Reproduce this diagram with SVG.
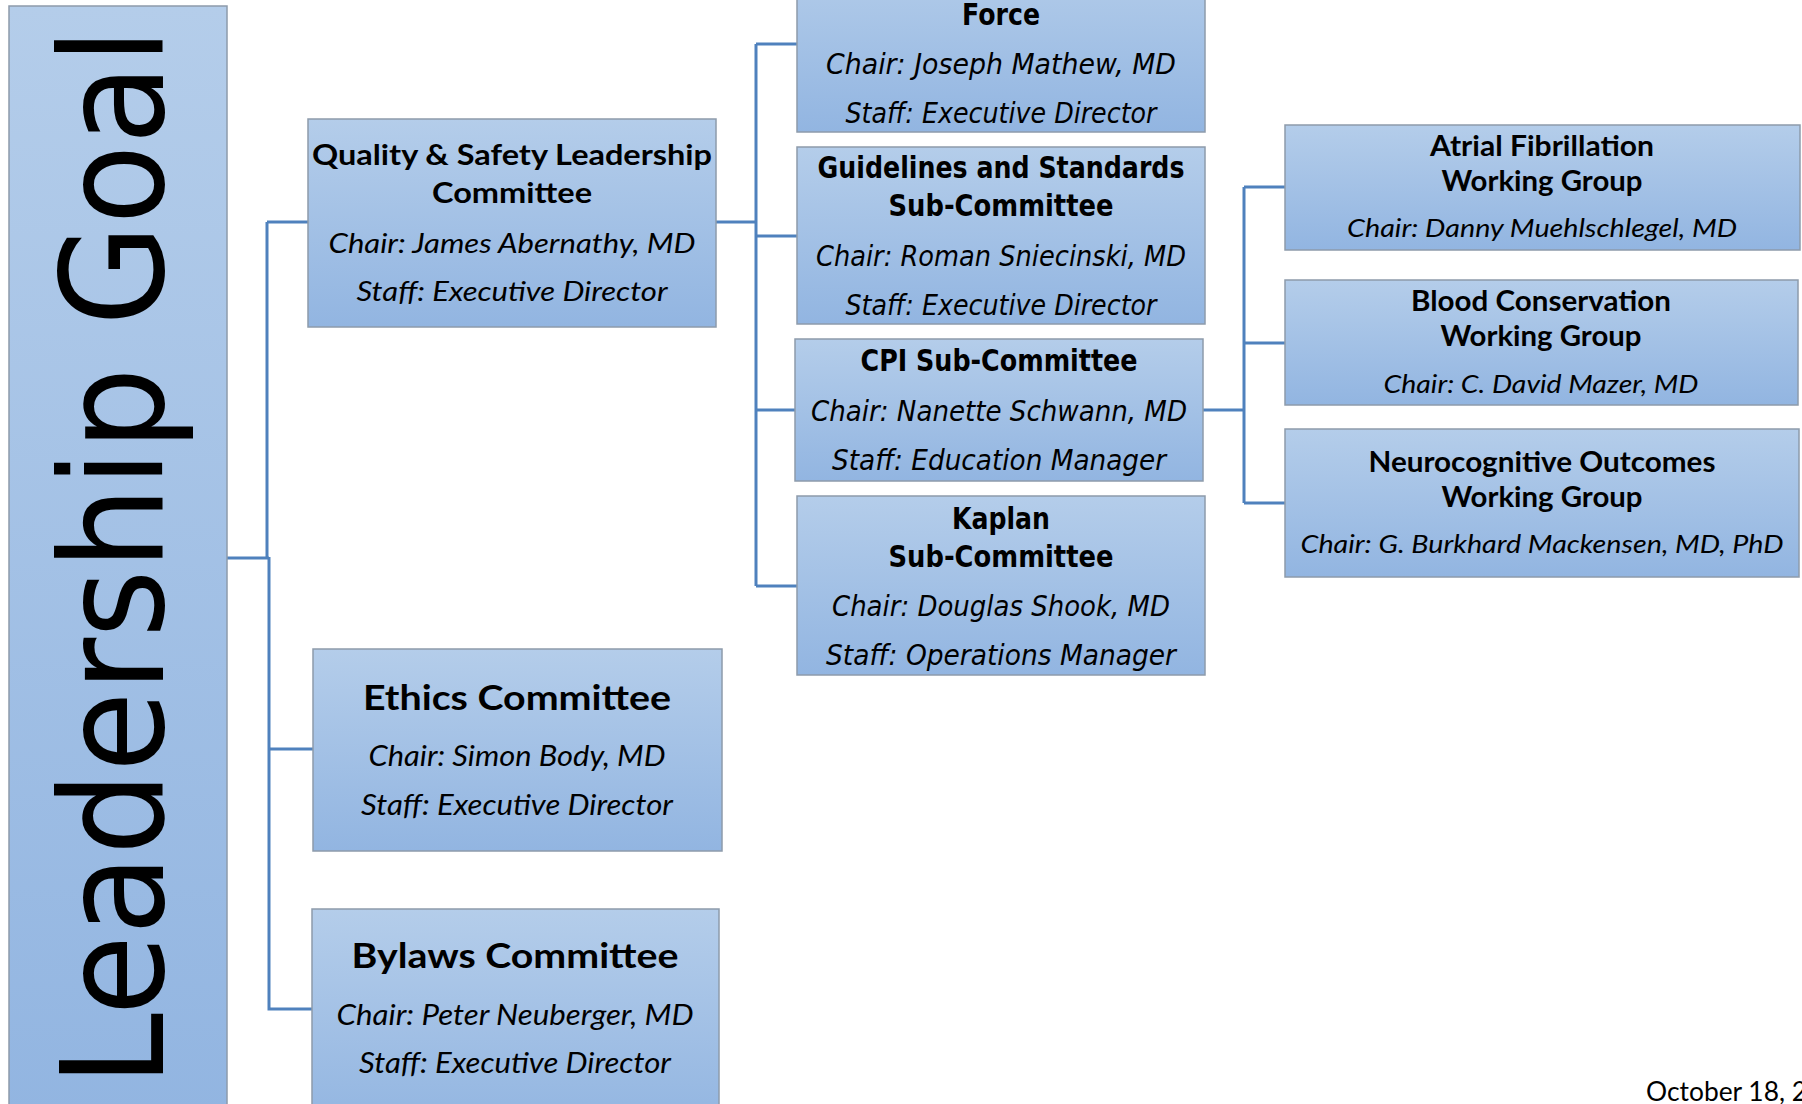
<svg xmlns="http://www.w3.org/2000/svg" width="1802" height="1104" viewBox="0 0 1802 1104">
<defs>
<linearGradient id="boxg" x1="0" y1="0" x2="0" y2="1">
<stop offset="0" stop-color="#b4cdea"/>
<stop offset="1" stop-color="#92b5e1"/>
</linearGradient>
<style>
.box{fill:url(#boxg);stroke:#8d9bab;stroke-width:1.5}
.conn{fill:none;stroke:#4f81bd;stroke-width:3}
.cb{font-family:Lato,"Liberation Sans",sans-serif;font-weight:bold;fill:#000;text-anchor:middle}
.ci{font-family:Lato,"Liberation Sans",sans-serif;font-style:italic;fill:#000;text-anchor:middle}
.vb{font-family:"DejaVu Sans",sans-serif;font-weight:bold;font-size:31px;fill:#000;text-anchor:middle}
.vi{font-family:"DejaVu Sans",sans-serif;font-style:italic;font-size:29px;fill:#000;text-anchor:middle}
</style>
</defs>
<rect width="1802" height="1104" fill="#fff"/>

<g id="connectors">
<path class="conn" d="M267 222 H308 M267 222 V559 M226 558 H269 M269 557 V1009 H312 M269 749 H313"/>
<path class="conn" d="M716 222 H756 M756 44 V586 M756 44 H797 M756 236 H797 M756 410 H795 M756 586 H797"/>
<path class="conn" d="M1203 410 H1244 M1244 187 V503 M1244 187 H1285 M1244 343 H1285 M1244 503 H1285"/>
</g>

<g id="leadership-goal">
<rect class="box" x="9" y="6" width="218" height="1110"/>
<text transform="translate(163,557) rotate(-90)" x="0" y="0" font-family="'DejaVu Sans',sans-serif" font-size="142" text-anchor="middle" textLength="1058" lengthAdjust="spacingAndGlyphs">Leadership Goal</text>
</g>

<g id="quality-safety">
<rect class="box" x="308" y="119" width="408" height="208"/>
<text class="cb" x="512" y="165" font-size="29" textLength="400" lengthAdjust="spacingAndGlyphs">Quality &amp; Safety Leadership</text>
<text class="cb" x="512" y="203" font-size="29" textLength="160" lengthAdjust="spacingAndGlyphs">Committee</text>
<text class="ci" x="512" y="253" font-size="26.5" textLength="367" lengthAdjust="spacingAndGlyphs">Chair: James Abernathy, MD</text>
<text class="ci" x="512" y="301" font-size="26.5" textLength="311" lengthAdjust="spacingAndGlyphs">Staff: Executive Director</text>
</g>

<g id="task-force">
<rect class="box" x="797" y="-40" width="408" height="172"/>
<text class="vb" x="1001" y="25" textLength="78" lengthAdjust="spacingAndGlyphs">Force</text>
<text class="vi" x="1001" y="74" textLength="350" lengthAdjust="spacingAndGlyphs">Chair: Joseph Mathew, MD</text>
<text class="vi" x="1001" y="123" textLength="311" lengthAdjust="spacingAndGlyphs">Staff: Executive Director</text>
</g>

<g id="guidelines">
<rect class="box" x="797" y="147" width="408" height="177"/>
<text class="vb" x="1001" y="178" textLength="367" lengthAdjust="spacingAndGlyphs">Guidelines and Standards</text>
<text class="vb" x="1001" y="216" textLength="225" lengthAdjust="spacingAndGlyphs">Sub-Committee</text>
<text class="vi" x="1001" y="266" textLength="370" lengthAdjust="spacingAndGlyphs">Chair: Roman Sniecinski, MD</text>
<text class="vi" x="1001" y="315" textLength="311" lengthAdjust="spacingAndGlyphs">Staff: Executive Director</text>
</g>

<g id="cpi">
<rect class="box" x="795" y="339" width="408" height="142"/>
<text class="vb" x="999" y="371" textLength="277" lengthAdjust="spacingAndGlyphs">CPI Sub-Committee</text>
<text class="vi" x="999" y="421" textLength="376" lengthAdjust="spacingAndGlyphs">Chair: Nanette Schwann, MD</text>
<text class="vi" x="999" y="470" textLength="334" lengthAdjust="spacingAndGlyphs">Staff: Education Manager</text>
</g>

<g id="kaplan">
<rect class="box" x="797" y="496" width="408" height="179"/>
<text class="vb" x="1001" y="529" textLength="98" lengthAdjust="spacingAndGlyphs">Kaplan</text>
<text class="vb" x="1001" y="567" textLength="225" lengthAdjust="spacingAndGlyphs">Sub-Committee</text>
<text class="vi" x="1001" y="616" textLength="338" lengthAdjust="spacingAndGlyphs">Chair: Douglas Shook, MD</text>
<text class="vi" x="1001" y="665" textLength="350" lengthAdjust="spacingAndGlyphs">Staff: Operations Manager</text>
</g>

<g id="atrial-fibrillation">
<rect class="box" x="1285" y="125" width="515" height="125"/>
<text class="cb" x="1542" y="156" font-size="28" textLength="224" lengthAdjust="spacingAndGlyphs">Atrial Fibrillation</text>
<text class="cb" x="1542" y="191" font-size="28" textLength="201" lengthAdjust="spacingAndGlyphs">Working Group</text>
<text class="ci" x="1542" y="237" font-size="25" textLength="390" lengthAdjust="spacingAndGlyphs">Chair: Danny Muehlschlegel, MD</text>
</g>

<g id="blood-conservation">
<rect class="box" x="1285" y="280" width="513" height="125"/>
<text class="cb" x="1541" y="311" font-size="28" textLength="260" lengthAdjust="spacingAndGlyphs">Blood Conservation</text>
<text class="cb" x="1541" y="346" font-size="28" textLength="201" lengthAdjust="spacingAndGlyphs">Working Group</text>
<text class="ci" x="1541" y="393" font-size="25" textLength="315" lengthAdjust="spacingAndGlyphs">Chair: C. David Mazer, MD</text>
</g>

<g id="neurocognitive">
<rect class="box" x="1285" y="429" width="514" height="148"/>
<text class="cb" x="1542" y="472" font-size="28" textLength="347" lengthAdjust="spacingAndGlyphs">Neurocognitive Outcomes</text>
<text class="cb" x="1542" y="507" font-size="28" textLength="201" lengthAdjust="spacingAndGlyphs">Working Group</text>
<text class="ci" x="1542" y="553" font-size="25" textLength="483" lengthAdjust="spacingAndGlyphs">Chair: G. Burkhard Mackensen, MD, PhD</text>
</g>

<g id="ethics">
<rect class="box" x="313" y="649" width="409" height="202"/>
<text class="cb" x="517" y="710" font-size="35" textLength="308" lengthAdjust="spacingAndGlyphs">Ethics Committee</text>
<text class="ci" x="517" y="766" font-size="28" textLength="297" lengthAdjust="spacingAndGlyphs">Chair: Simon Body, MD</text>
<text class="ci" x="517" y="815" font-size="28" textLength="312" lengthAdjust="spacingAndGlyphs">Staff: Executive Director</text>
</g>

<g id="bylaws">
<rect class="box" x="312" y="909" width="407" height="220"/>
<text class="cb" x="515" y="968" font-size="35" textLength="327" lengthAdjust="spacingAndGlyphs">Bylaws Committee</text>
<text class="ci" x="515" y="1025" font-size="28" textLength="357" lengthAdjust="spacingAndGlyphs">Chair: Peter Neuberger, MD</text>
<text class="ci" x="515" y="1073" font-size="28" textLength="312" lengthAdjust="spacingAndGlyphs">Staff: Executive Director</text>
</g>

<text x="1646" y="1101" font-family="Lato,'Liberation Sans',sans-serif" font-size="27" fill="#000" textLength="161" lengthAdjust="spacingAndGlyphs">October 18, 2</text>
</svg>
